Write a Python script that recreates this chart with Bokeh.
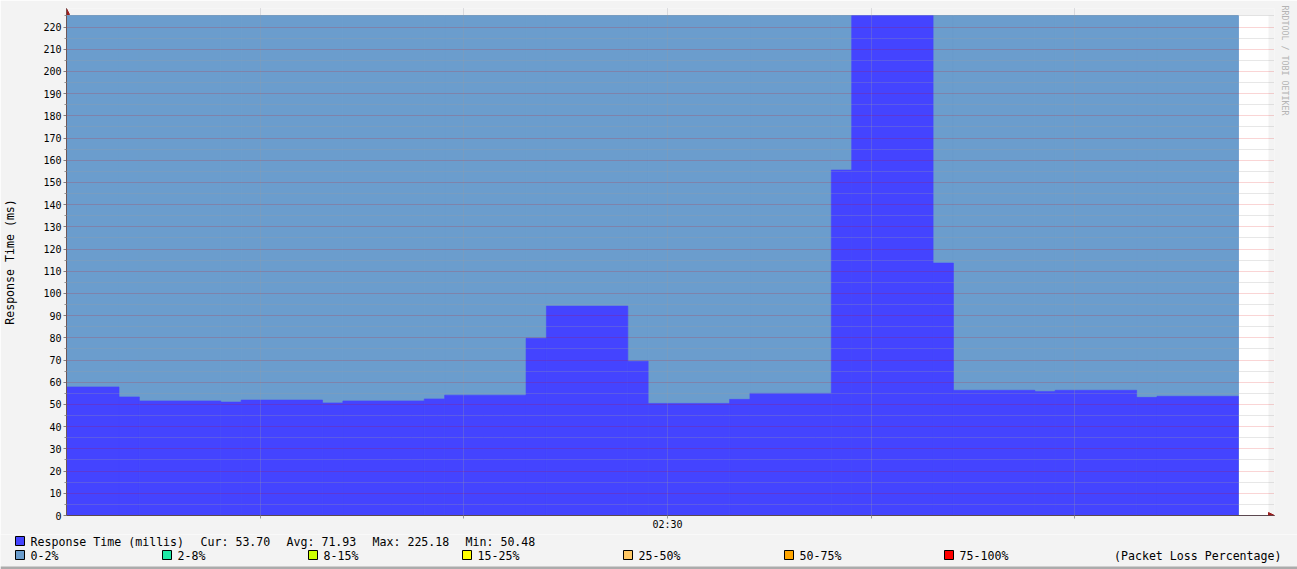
import math
from bokeh.plotting import figure
from bokeh.layouts import column
from bokeh.models import (Range1d, FixedTicker, Arrow, NormalHead, Title)
from bokeh.core.properties import value
from bokeh.embed import file_html
from bokeh.resources import INLINE

# ---------------- data (minutes after 02:00) ----------------
x_start_min = 0.47
x_end_min = 59.53
step_end_min = [3.05, 4.05, 8.05, 9.05, 13.05, 14.05, 18.05, 19.05, 23.05,
                24.05, 28.05, 29.05, 33.05, 34.05, 38.05, 39.05, 43.05, 44.05,
                48.05, 49.05, 53.05, 54.05, 58.05]
rtt_ms = [57.9, 53.4, 51.6, 51.1, 52.0, 50.7, 51.6, 52.5, 54.2, 79.8, 94.3,
          69.5, 50.48, 52.3, 55.0, 155.6, 225.18, 113.7, 56.4, 55.9, 56.4,
          53.2, 53.70]
loss_pct = [0, 0, 0, 0, 0, 0, 0, 0, 0, 0, 0, 0, 0, 0, 0, 0, 0, 0, 0, 0, 0, 0, 0]

loss_labels = ["0-2%", "2-8%", "8-15%", "15-25%", "25-50%", "50-75%", "75-100%"]
loss_upper = [2, 8, 15, 25, 50, 75, 100]
loss_colors = ["#6B9DCD", "#1DE9A6", "#CCFF00", "#FFFF00", "#FFC865", "#FFA500", "#FF0000"]

x_grid_min = [10, 20, 30, 40, 50]
x_label_min = [30]
x_label_text = ["02:30"]
y_major = [0, 10, 20, 30, 40, 50, 60, 70, 80, 90, 100, 110, 120, 130, 140,
           150, 160, 170, 180, 190, 200, 210, 220]
y_minor = [5, 15, 25, 35, 45, 55, 65, 75, 85, 95, 105, 115, 125, 135, 145,
           155, 165, 175, 185, 195, 205, 215, 225]
y_max = 225.18

series_label = "Response Time (millis)"
stat_names = ["Cur:", "Avg:", "Max:", "Min:"]
stat_values = [53.70, 71.93, 225.18, 50.48]

RTT_COLOR = "#4444FF"
BACK = "#F3F3F3"
MONO = "DejaVu Sans Mono"
AXIS_COLOR = "#6E5757"
ARROW_COLOR = "#9A1C1C"

# ---------------- layout geometry (page pixels) ----------------
W, H = 1297, 569
H1 = 534                     # main chart height, legend strip below
GX0, GX1 = 66, 1268          # graph area left / right
GY0, GY1 = 15, 515           # graph area top / bottom
FX1, FY0 = 1274, 8           # frame reaches a bit further for the arrows
BL, BR, BT, BB = GX0, W - FX1, FY0, H1 - GY1

x_frame_end = x_start_min + (x_end_min - x_start_min) * (FX1 - GX0) / (GX1 - GX0)
y_frame_top = y_max * (GY1 - FY0) / (GY1 - GY0)

p = figure(width=W, height=H1, output_backend="svg", toolbar_location=None,
           x_range=Range1d(x_start_min, x_frame_end),
           y_range=Range1d(0, y_frame_top),
           min_border_left=BL, min_border_right=BR, min_border_top=BT,
           min_border_bottom=BB)
p.border_fill_color = BACK
p.background_fill_color = BACK
p.outline_line_color = None
if "frame_align" in p.properties():
    p.frame_align = False

step_start = [x_start_min] + step_end_min[:-1]

def loss_color(v):
    for up, c in zip(loss_upper, loss_colors):
        if v <= up:
            return c
    return loss_colors[-1]

# white canvas of the graph area after the last sample
p.quad(left=[step_end_min[-1]], right=[x_end_min], bottom=[0], top=[y_max],
       fill_color="#FFFFFF", line_color=None)
lc = [loss_color(v) for v in loss_pct]
p.quad(left=step_start, right=step_end_min, bottom=0, top=y_max,
       fill_color=lc, line_color=lc, line_width=1)
p.quad(left=step_start, right=step_end_min, bottom=0, top=rtt_ms,
       fill_color=RTT_COLOR, line_color=RTT_COLOR, line_width=0.6)

# ---------------- axes ----------------
xa = p.xaxis[0]
xa.ticker = FixedTicker(ticks=x_grid_min)
xa.major_label_overrides = {t: "" for t in x_grid_min}
for t, s in zip(x_label_min, x_label_text):
    xa.major_label_overrides[t] = s
xa.major_label_text_font = MONO
xa.major_label_text_font_size = "10px"
xa.major_label_text_color = "#000000"
xa.major_label_standoff = 0
xa.major_tick_out = 3
xa.major_tick_in = 0
xa.minor_tick_out = 0
xa.minor_tick_in = 0
xa.axis_line_color = AXIS_COLOR
xa.major_tick_line_color = "#9a9a9a"

ya = p.yaxis[0]
ya.ticker = FixedTicker(ticks=y_major, minor_ticks=y_minor)
ya.major_label_text_font = MONO
ya.major_label_text_font_size = "10px"
ya.major_label_text_color = "#000000"
ya.major_label_standoff = 2
ya.major_tick_out = 3
ya.major_tick_in = 0
ya.minor_tick_out = 2
ya.minor_tick_in = 0
ya.axis_line_color = AXIS_COLOR
ya.major_tick_line_color = "#808080"
ya.minor_tick_line_color = "#909090"
ya.axis_label = "Response Time (ms)"
ya.axis_label_text_font = MONO
ya.axis_label_text_font_size = "11.6px"
ya.axis_label_text_font_style = "normal"
ya.axis_label_text_color = "#000000"
ya.axis_label_standoff = 23

# ---------------- grids (drawn above the areas) ----------------
xg = p.xgrid[0]
xg.ticker = FixedTicker(ticks=x_grid_min)
xg.grid_line_color = "#9A9AA6"
xg.grid_line_alpha = 0.55
xg.grid_line_dash = "1 1"
xg.level = "overlay"

yg = p.ygrid[0]
yg.ticker = FixedTicker(ticks=y_major, minor_ticks=y_minor)
yg.grid_line_color = "#E00000"
yg.grid_line_alpha = 0.33
yg.grid_line_dash = "1 1"
yg.minor_grid_line_color = "#A0A0A0"
yg.minor_grid_line_alpha = 0.5
yg.minor_grid_line_dash = "1 1"
yg.level = "overlay"

# axis arrows
p.add_layout(Arrow(x_start=x_start_min, y_start=0, x_end=x_start_min,
                   y_end=y_frame_top, line_color=AXIS_COLOR, line_width=1,
                   end=NormalHead(size=6, fill_color=ARROW_COLOR,
                                  line_color=ARROW_COLOR)))
p.add_layout(Arrow(x_start=x_start_min, y_start=0, x_end=x_frame_end,
                   y_end=0, line_color="#4A3A4A", line_width=1,
                   end=NormalHead(size=6, fill_color=ARROW_COLOR,
                                  line_color=ARROW_COLOR)))

# vertical watermark on the right side
wm = Title(text="RRDTOOL / TOBI OETIKER", align="left", offset=-3,
           standoff=10, text_font=MONO, text_font_size="8.3px",
           text_font_style="normal", text_color="#B4B4B4")
p.add_layout(wm, "right")

# ---------------- legend strip (page-pixel coordinates) ----------------
H2 = H - H1
lg = figure(width=W, height=H2, output_backend="svg", toolbar_location=None,
            x_range=Range1d(0, W), y_range=Range1d(H, H1),
            x_axis_type=None, y_axis_type=None,
            min_border_left=0, min_border_right=0, min_border_top=0,
            min_border_bottom=0)
lg.border_fill_color = BACK
lg.background_fill_color = BACK
lg.outline_line_color = None
lg.xgrid.visible = False
lg.ygrid.visible = False
if "frame_align" in lg.properties():
    lg.frame_align = False

SQ = 9
row1_y, row2_y = 541, 555
sq_x = [15, 15, 162, 308, 462, 623, 784, 944]
sq_y = [row1_y, row2_y, row2_y, row2_y, row2_y, row2_y, row2_y, row2_y]
sq_c = [RTT_COLOR] + loss_colors
lg.quad(left=sq_x, right=[v + SQ for v in sq_x],
        top=[v - 5 for v in sq_y], bottom=[v - 5 + SQ for v in sq_y],
        fill_color=sq_c, line_color="#000000", line_width=1)

t_x = [30, 200, 286, 372, 465] + [v + 15 for v in sq_x[1:]]
t_s = [series_label] + [f"{n} {v:.2f}" for n, v in zip(stat_names, stat_values)] + loss_labels
t_y = [row1_y] * 5 + [row2_y] * len(loss_labels)
lg.text(x=t_x, y=t_y, text=t_s, text_font=value(MONO),
        text_font_size="11.6px", text_color="#000000",
        text_baseline="middle", text_align="left")
lg.text(x=[1281], y=[row2_y], text=["(Packet Loss Percentage)"],
        text_font=value(MONO), text_font_size="11.6px", text_color="#000000",
        text_baseline="middle", text_align="right")

# darker lower edge of the picture
lg.quad(left=[0], right=[W], top=[566], bottom=[H],
        fill_color="#ABABAB", line_color=None)

layout = column(p, lg, spacing=0)
open("out.html", "w").write(file_html(layout, INLINE))
